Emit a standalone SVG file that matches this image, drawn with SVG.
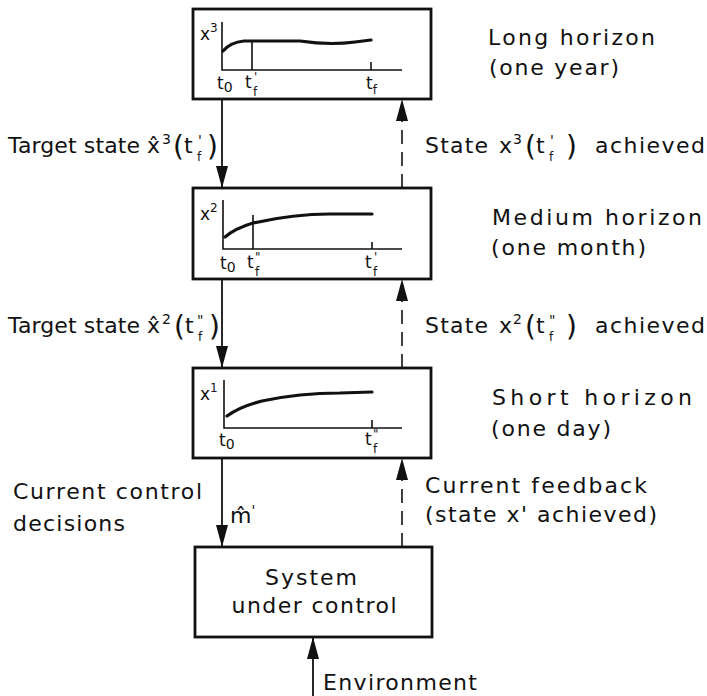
<svg xmlns="http://www.w3.org/2000/svg" width="707" height="696" viewBox="0 0 707 696">
<style>
text{font-family:"DejaVu Sans","Liberation Sans",sans-serif;fill:#111}
.m{font-size:22px}
.p{font-size:17px}
.s{font-size:12px}
.sp{font-size:14px}
.par{font-size:28px}
.box{fill:#fff;stroke:#111;stroke-width:2.8}
.ax{fill:none;stroke:#111;stroke-width:1.6}
.cv{fill:none;stroke:#111;stroke-width:3.2;stroke-linecap:round}
.sol{stroke:#111;stroke-width:1.8;fill:none}
.dash{stroke:#111;stroke-width:1.6;fill:none;stroke-dasharray:14 8}
</style>
<defs>
<marker id="ah" viewBox="0 0 22 12" refX="22" refY="6" markerWidth="22" markerHeight="12" markerUnits="userSpaceOnUse" orient="auto">
<path d="M0,0 L22,6 L0,12 z" fill="#111"/>
</marker>
</defs>

<g id="long">
<rect class="box" x="193" y="9" width="238" height="90"/>
<path class="ax" d="M222,22 V70 H402 M252,41 V70 M371,62 V70"/>
<path class="cv" d="M223,51 C228,45 234,42 244,41 L300,41 C320,44 340,44 355,42 L371,40"/>
<text class="p" x="200" y="40">x<tspan class="s" dy="-8">3</tspan></text>
<text class="p" x="217" y="89">t<tspan class="sp" dy="3">0</tspan></text>
<text class="p" x="245" y="88">t<tspan class="s" x="254" dy="-7">'</tspan><tspan class="s" x="253" dy="15">f</tspan></text>
<text class="p" x="366" y="89">t<tspan class="s" dy="5">f</tspan></text>
<text class="m" x="488" y="45" textLength="167" lengthAdjust="spacing">Long horizon</text>
<text class="m" x="489" y="75" textLength="130" lengthAdjust="spacing">(one year)</text>
</g>

<g id="medium">
<rect class="box" x="193" y="188" width="238" height="91"/>
<path class="ax" d="M223,200 V249 H402 M253,215 V249 M372,242 V249"/>
<path class="cv" d="M225,237 C232,231 243,226 253,223 C280,217 310,214 330,214 L372,214"/>
<text class="p" x="200" y="220">x<tspan class="s" dy="-8">2</tspan></text>
<text class="p" x="220" y="269">t<tspan class="sp" dy="3">0</tspan></text>
<text class="p" x="247" y="268">t<tspan class="s" x="255" dy="-7">"</tspan><tspan class="s" x="255" dy="15">f</tspan></text>
<text class="p" x="365" y="268">t<tspan class="s" x="374" dy="-7">'</tspan><tspan class="s" x="373" dy="15">f</tspan></text>
<text class="m" x="492" y="225" textLength="210" lengthAdjust="spacing">Medium horizon</text>
<text class="m" x="491" y="255" textLength="155" lengthAdjust="spacing">(one month)</text>
</g>

<g id="short">
<rect class="box" x="193" y="368" width="238" height="90"/>
<path class="ax" d="M224,380 V428 H402 M372,420 V428"/>
<path class="cv" d="M227,416 C238,408 250,404 262,401 C290,395 320,393 340,393 L372,392"/>
<text class="p" x="200" y="400">x<tspan class="s" dy="-8">1</tspan></text>
<text class="p" x="219" y="446">t<tspan class="sp" dy="3">0</tspan></text>
<text class="p" x="365" y="445">t<tspan class="s" x="373" dy="-7">"</tspan><tspan class="s" x="373" dy="15">f</tspan></text>
<text class="m" x="492" y="405" textLength="200" lengthAdjust="spacing">Short horizon</text>
<text class="m" x="491" y="436" textLength="120" lengthAdjust="spacing">(one day)</text>
</g>

<g id="system">
<rect class="box" x="195" y="547" width="237" height="90"/>
<text class="m" x="311" y="585" text-anchor="middle" textLength="92" lengthAdjust="spacing">System</text>
<text class="m" x="314" y="613" text-anchor="middle" textLength="165" lengthAdjust="spacing">under control</text>
</g>

<g id="connectors">
<line class="sol" x1="222" y1="99" x2="222" y2="188" marker-end="url(#ah)"/>
<line class="sol" x1="222" y1="279" x2="222" y2="368" marker-end="url(#ah)"/>
<line class="sol" x1="222" y1="458" x2="222" y2="547" marker-end="url(#ah)"/>
<line class="dash" x1="402" y1="188" x2="402" y2="99" marker-end="url(#ah)"/>
<line class="dash" x1="402" y1="368" x2="402" y2="279" marker-end="url(#ah)"/>
<line class="dash" x1="402" y1="547" x2="402" y2="458" marker-end="url(#ah)"/>
<line class="sol" x1="313" y1="696" x2="313" y2="637" marker-end="url(#ah)"/>
</g>

<g id="labels">
<text class="m" x="8" y="153"><tspan textLength="132" lengthAdjust="spacing">Target state</tspan><tspan x="147">x̂</tspan><tspan class="sp" x="162" dy="-9">3</tspan><tspan class="par" x="173" dy="12">(</tspan><tspan x="184" dy="-3">t</tspan><tspan class="sp" x="198" dy="-8">'</tspan><tspan class="s" x="197" dy="16">f</tspan><tspan class="par" x="207" dy="-5">)</tspan></text>

<text class="m" x="425" y="153"><tspan textLength="63" lengthAdjust="spacing">State</tspan><tspan x="499">x</tspan><tspan class="sp" x="513" dy="-9">3</tspan><tspan class="par" x="525" dy="12">(</tspan><tspan x="536" dy="-3">t</tspan><tspan class="sp" x="550" dy="-8">'</tspan><tspan class="s" x="549" dy="16">f</tspan><tspan class="par" x="566" dy="-5">)</tspan><tspan x="595" dy="-3" textLength="110" lengthAdjust="spacing">achieved</tspan></text>

<text class="m" x="8" y="333"><tspan textLength="132" lengthAdjust="spacing">Target state</tspan><tspan x="147">x̂</tspan><tspan class="sp" x="162" dy="-9">2</tspan><tspan class="par" x="174" dy="12">(</tspan><tspan x="185" dy="-3">t</tspan><tspan class="sp" x="197" dy="-8">"</tspan><tspan class="s" x="198" dy="16">f</tspan><tspan class="par" x="209" dy="-5">)</tspan></text>

<text class="m" x="425" y="333"><tspan textLength="63" lengthAdjust="spacing">State</tspan><tspan x="499">x</tspan><tspan class="sp" x="513" dy="-9">2</tspan><tspan class="par" x="525" dy="12">(</tspan><tspan x="536" dy="-3">t</tspan><tspan class="sp" x="549" dy="-8">"</tspan><tspan class="s" x="549" dy="16">f</tspan><tspan class="par" x="566" dy="-5">)</tspan><tspan x="595" dy="-3" textLength="110" lengthAdjust="spacing">achieved</tspan></text>

<text class="m" x="13" y="499" textLength="189" lengthAdjust="spacing">Current control</text>
<text class="m" x="13" y="531" textLength="112" lengthAdjust="spacing">decisions</text>
<text class="m" x="230" y="523">m̂<tspan class="sp" dy="-8">'</tspan></text>

<text class="m" x="425" y="493" textLength="222" lengthAdjust="spacing">Current feedback</text>
<text class="m" x="425" y="522" textLength="232" lengthAdjust="spacing">(state x' achieved)</text>

<text class="m" x="323" y="690" textLength="154" lengthAdjust="spacing">Environment</text>
</g>
</svg>
